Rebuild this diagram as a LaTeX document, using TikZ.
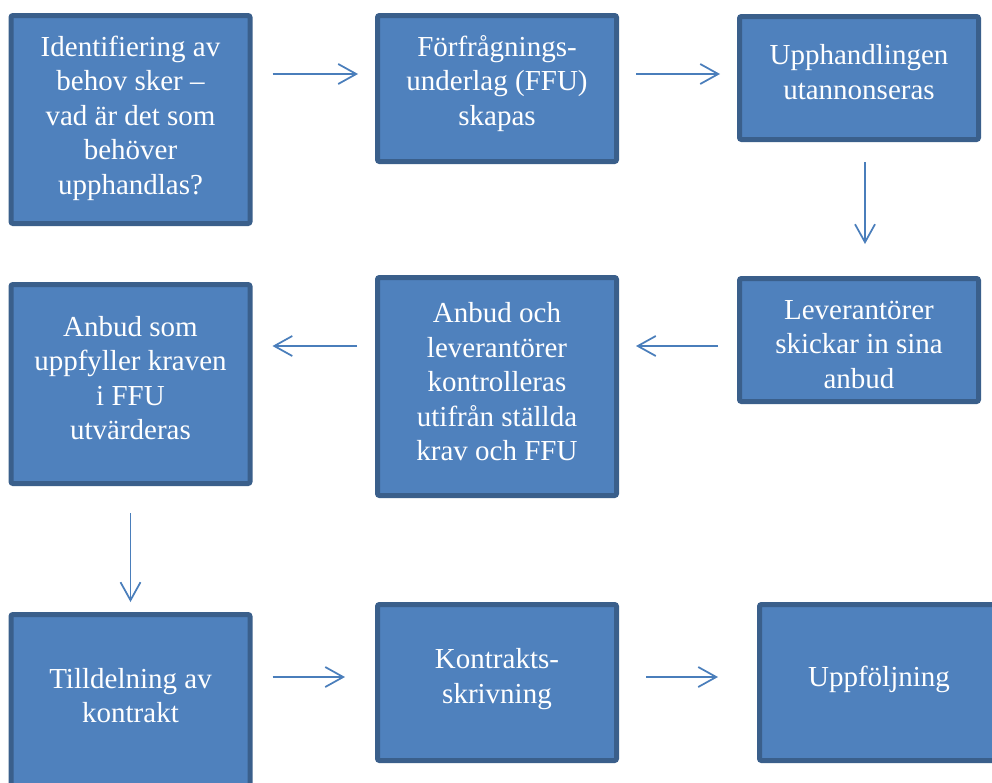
\documentclass[tikz,border=0pt]{standalone}
\usepackage{fontspec}
\setmainfont{Liberation Serif}
\usetikzlibrary{arrows.meta}
\definecolor{boxfill}{HTML}{4F81BD}
\definecolor{boxline}{HTML}{3A5F8B}
\definecolor{flowline}{HTML}{4A7EBB}

\tikzset{
  stepbox/.style={rectangle, rounded corners=1.5pt, fill=boxfill, draw=boxline,
    line width=3.75pt, minimum width=179.25pt, inner sep=0pt},
  steptext/.style={text=white, align=center, inner sep=0pt,
    font=\fontsize{21.75}{25.9}\selectfont},
  flow/.style={draw=flowline, line width=1.3pt,
    -{Straight Barb[length=13.5pt, width=15pt]}}
}

\begin{document}
\begin{tikzpicture}[x=0.75pt, y=-0.75pt]
    \useasboundingbox (0,0) rectangle (992,782);
    \clip (0,0) rectangle (992,782);

    % Rad 1
    \node[stepbox, minimum height=156pt] (behov) at (130.5,119.5) {};
    \node[steptext] (behovtxt) at (130.5,118) {Identifiering av\\behov sker –\\vad är det som\\behöver\\upphandlas?};

    \node[stepbox, minimum height=109.5pt] (ffu) at (497,88.5) {};
    \node[steptext] (ffutxt) at (497,83.5) {Förfrågnings-\\underlag (FFU)\\skapas};

    \node[stepbox, minimum height=92.25pt] (annons) at (859,78) {};
    \node[steptext] (annonstxt) at (859,72) {Upphandlingen\\utannonseras};

    % Rad 2
    \node[stepbox, minimum height=92.25pt] (skickar) at (859,340) {};
    \node[steptext] (skickartxt) at (859,344.5) {Leverantörer\\skickar in sina\\anbud};

    \node[stepbox, minimum height=163.5pt] (kontroll) at (497,386.5) {};
    \node[steptext] (kontrolltxt) at (497,382) {Anbud och\\leverantörer\\kontrolleras\\utifrån ställda\\krav och FFU};

    \node[stepbox, minimum height=149.25pt] (utvardera) at (130.5,384) {};
    \node[steptext] (utvarderatxt) at (130.5,378) {Anbud som\\uppfyller kraven\\i FFU\\utvärderas};

    % Rad 3
    \node[stepbox, minimum height=131.25pt] (tilldelning) at (130.5,702) {};
    \node[steptext] (tilldelningtxt) at (130.5,695.5) {Tilldelning av\\kontrakt};

    \node[stepbox, minimum height=117pt] (kontrakt) at (497,682.5) {};
    \node[steptext] (kontrakttxt) at (497,679) {Kontrakts-\\skrivning};

    \node[stepbox, minimum height=117pt, minimum width=186.75pt] (uppfoljning) at (884,682.5) {};
    \node[steptext] (uppfoljningtxt) at (879,679) {Uppföljning};

    % Pilar
    \draw[flow, shorten <=15pt, shorten >=12.75pt] (behov.east |- 0,74) -- (ffu.west |- 0,74);
    \draw[flow, shorten <=12.75pt, shorten >=12.75pt] (ffu.east |- 0,74) -- (annons.west |- 0,74);
    \draw[flow, shorten <=15pt, shorten >=24pt] (annons.south -| 865,0) -- (skickar.north -| 865,0);
    \draw[flow, shorten <=14.25pt, shorten >=12.75pt] (skickar.west |- 0,346) -- (kontroll.east |- 0,346);
    \draw[flow, shorten <=13.5pt, shorten >=15pt] (kontroll.west |- 0,346) -- (utvardera.east |- 0,346);
    \draw[flow, shorten <=20.25pt, shorten >=7.5pt] (utvardera.south) -- (tilldelning.north);
    \draw[flow, shorten <=15pt, shorten >=22.5pt] (tilldelning.east |- 0,677) -- (kontrakt.west |- 0,677);
    \draw[flow, shorten <=20.25pt, shorten >=29.25pt] (kontrakt.east |- 0,677) -- (uppfoljning.west |- 0,677);
\end{tikzpicture}
\end{document}
